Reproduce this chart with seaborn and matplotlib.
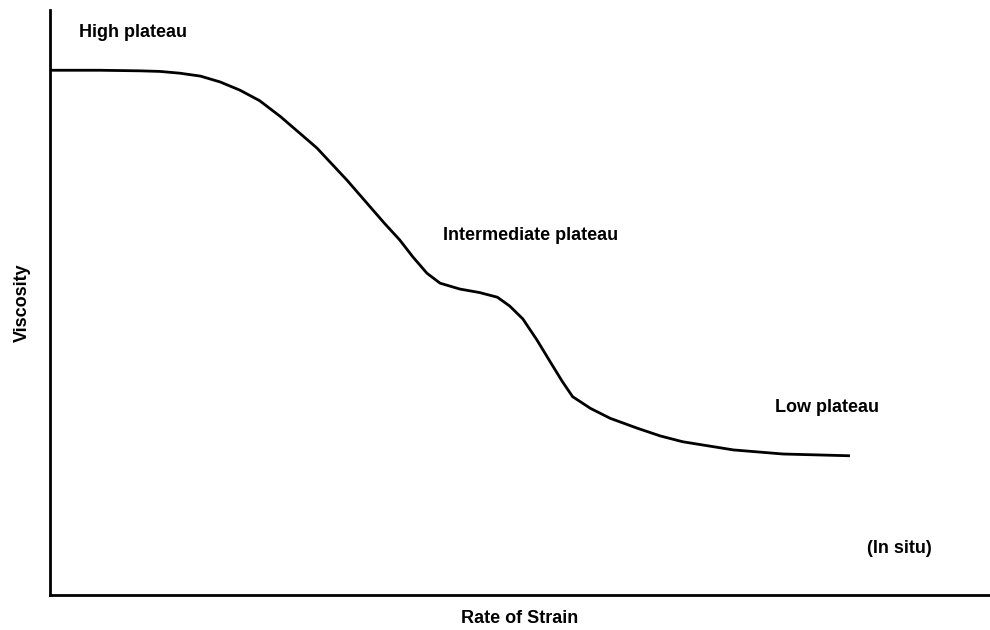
import numpy as np
import pandas as pd
import matplotlib
matplotlib.use('Agg')
import matplotlib.pyplot as plt
import seaborn as sns

# Curve (arbitrary units, 0-100 on both axes)
strain_rate = [0.0, 5.3, 9.6, 11.7, 13.8, 16.0, 18.1, 20.2, 22.3, 24.5, 26.6,
               28.4, 31.6, 35.6, 37.2, 38.6, 40.1, 41.5, 43.6, 45.7, 47.6,
               48.9, 50.3, 51.8, 53.2, 54.5, 55.6, 57.5, 59.6, 62.5, 64.9,
               67.3, 72.7, 78.0, 85.1]
viscosity = [89.7, 89.7, 89.6, 89.5, 89.2, 88.7, 87.7, 86.3, 84.5, 81.8, 78.9,
             76.4, 70.9, 63.5, 60.7, 57.8, 55.0, 53.3, 52.3, 51.7, 50.9,
             49.4, 47.2, 43.6, 39.9, 36.5, 33.9, 31.9, 30.2, 28.5, 27.2,
             26.2, 24.8, 24.1, 23.8]

# Region labels
labels = ['High plateau', 'Intermediate plateau', 'Low plateau', '(In situ)']
label_x = [3.1, 41.8, 77.1, 86.9]
label_y = [96.2, 61.4, 32.0, 8.0]

data = pd.DataFrame({'strain': strain_rate, 'viscosity': viscosity})

sns.set_style('white')
plt.rcParams['font.family'] = ['Liberation Sans', 'DejaVu Sans']
plt.rcParams['text.color'] = 'black'
plt.rcParams['axes.labelcolor'] = 'black'

fig = plt.figure(figsize=(9.9, 6.3), dpi=100)
ax = fig.add_axes([50/990, 1 - 595/630, 940/990, 585/630])

line = sns.lineplot(data=data, x='strain', y='viscosity', color='black',
                    linewidth=2, ax=ax)
for l in ax.lines:
    l.set_solid_joinstyle('round')
    l.set_solid_capstyle('butt')

for txt, x, y in zip(labels, label_x, label_y):
    ax.text(x, y, txt, ha='left', va='center', fontsize=13, fontweight='bold')

ax.set_xlim(0, 100)
ax.set_ylim(0, 100)
ax.set_xticks([])
ax.set_yticks([])
ax.set_xlabel('Rate of Strain', fontsize=13, fontweight='bold', labelpad=11)
ax.set_ylabel('Viscosity', fontsize=13, fontweight='bold', labelpad=14)

sns.despine(ax=ax)
for s in ['left', 'bottom']:
    ax.spines[s].set_linewidth(2)
    ax.spines[s].set_color('black')

plt.savefig('out.png', dpi=100)
